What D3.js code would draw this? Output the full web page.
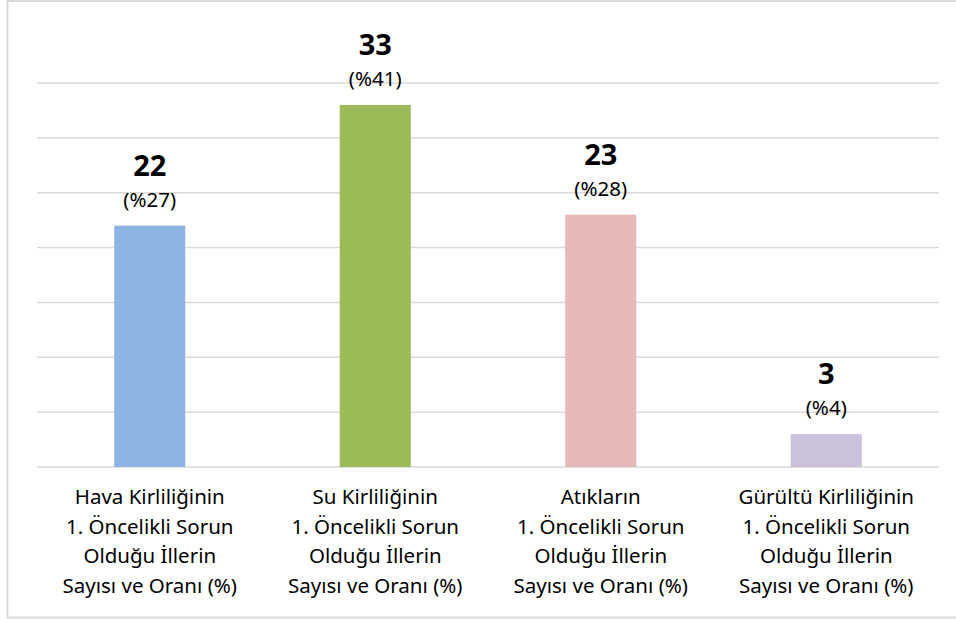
<!DOCTYPE html>
<html>
<head>
<meta charset="utf-8">
<script src="https://cdn.jsdelivr.net/npm/d3@7"></script>
<style>
  html, body { margin: 0; padding: 0; background: #fff; overflow: hidden; }
  text { font-family: "Noto Sans", sans-serif; fill: #000; }
</style>
</head>
<body>
<div id="chart"></div>
<script>
const categories = [
  ['Hava Kirliliğinin', '1. Öncelikli Sorun', 'Olduğu İllerin', 'Sayısı ve Oranı (%)'],
  ['Su Kirliliğinin', '1. Öncelikli Sorun', 'Olduğu İllerin', 'Sayısı ve Oranı (%)'],
  ['Atıkların', '1. Öncelikli Sorun', 'Olduğu İllerin', 'Sayısı ve Oranı (%)'],
  ['Gürültü Kirliliğinin', '1. Öncelikli Sorun', 'Olduğu İllerin', 'Sayısı ve Oranı (%)']
];
const values = [22, 33, 23, 3];
const percents = ['(%27)', '(%41)', '(%28)', '(%4)'];
const colors = ['#8EB4E3', '#9BBB59', '#E6B9B8', '#CCC1DA'];
const yTicks = [0, 5, 10, 15, 20, 25, 30, 35];

const width = 956, height = 619;
const plot = { left: 37, right: 939, top: 83, bottom: 467 };

const svg = d3.select('#chart')
  .append('svg')
  .attr('width', width)
  .attr('height', height)
  .style('display', 'block');

// chart border (right side runs past the crop)
svg.append('rect')
  .attr('x', 7.5).attr('y', 1)
  .attr('width', 960).attr('height', 616.5)
  .attr('fill', '#fff')
  .attr('stroke', '#d9d9d9')
  .attr('stroke-width', 2);

const idx = categories.map((d, i) => i);

const x = d3.scaleBand()
  .domain(idx)
  .range([plot.left, plot.right])
  .paddingInner(0.685)
  .paddingOuter(0.3425);

const y = d3.scaleLinear()
  .domain([0, 35])
  .range([plot.bottom, plot.top]);

// gridlines
svg.append('g')
  .selectAll('line')
  .data(yTicks)
  .join('line')
  .attr('x1', plot.left)
  .attr('x2', plot.right)
  .attr('y1', d => y(d))
  .attr('y2', d => y(d))
  .attr('stroke', '#d9d9d9')
  .attr('stroke-width', 1.5);

// bars
svg.append('g')
  .selectAll('rect')
  .data(values)
  .join('rect')
  .attr('x', (d, i) => x(i))
  .attr('width', x.bandwidth())
  .attr('y', d => y(d))
  .attr('height', d => y(0) - y(d))
  .attr('fill', (d, i) => colors[i]);

// value labels
const labels = svg.append('g')
  .selectAll('g')
  .data(values)
  .join('g')
  .attr('transform', (d, i) => `translate(${x(i) + x.bandwidth() / 2}, ${y(d)})`);

labels.append('text')
  .attr('text-anchor', 'middle')
  .attr('y', -50)
  .style('font-size', '29px')
  .style('font-weight', 'bold')
  .text(d => d);

labels.append('text')
  .attr('text-anchor', 'middle')
  .attr('y', -19)
  .style('font-size', '20.5px')
  .text((d, i) => percents[i]);

// category labels
const cats = svg.append('g')
  .selectAll('text')
  .data(categories)
  .join('text')
  .attr('text-anchor', 'middle')
  .attr('x', (d, i) => x(i) + x.bandwidth() / 2)
  .attr('y', 504)
  .style('font-size', '20.5px');

cats.selectAll('tspan')
  .data(d => d)
  .join('tspan')
  .attr('x', function() { return this.parentNode.getAttribute('x'); })
  .attr('dy', (d, i) => i === 0 ? 0 : 29.5)
  .text(d => d);
</script>
</body>
</html>
